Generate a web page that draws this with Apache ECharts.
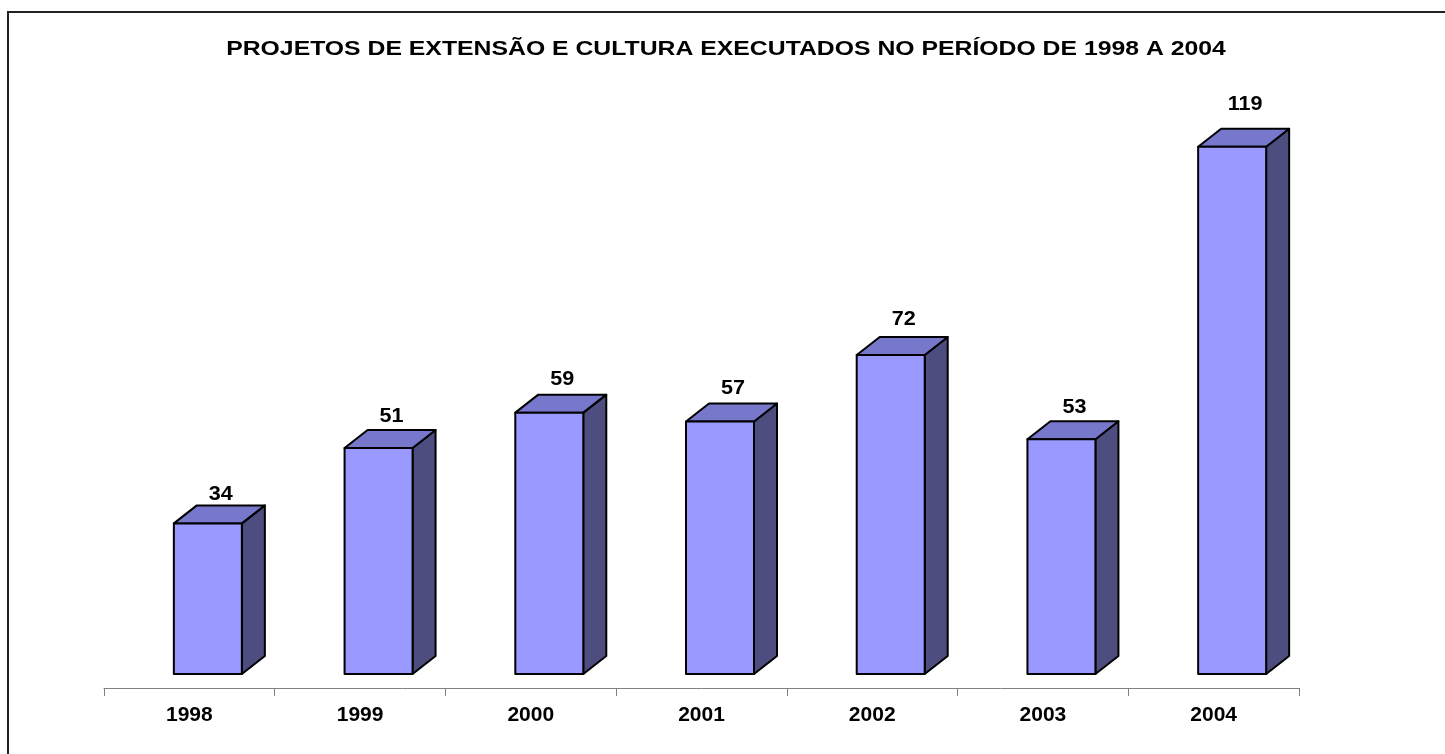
<!DOCTYPE html>
<html>
<head>
<meta charset="utf-8">
<script src="https://cdn.jsdelivr.net/npm/echarts@6/dist/echarts.min.js"></script>
<style>
  html, body { margin: 0; padding: 0; background: #fff; }
  #chart { width: 1445px; height: 754px; }
</style>
</head>
<body>
<div id="chart"></div>
<script>
const titleText = "PROJETOS DE EXTENSÃO E CULTURA EXECUTADOS NO PERÍODO DE 1998 A 2004";
const years = ["1998", "1999", "2000", "2001", "2002", "2003", "2004"];
const projetos = [34, 51, 59, 57, 72, 53, 119];

const FRONT = "#9999ff";
const TOP = "#7777cc";
const SIDE = "#4d4d80";
const DX = 23, DY = 18;      // 3D depth offset
const FACE_W = 68;           // front face width
const FACE_SHIFT = -15.5;    // front face left edge relative to category center
const FONT = "'Liberation Sans', Arial, sans-serif";

const chart = echarts.init(document.querySelector("#chart"));

function renderBar(params, api) {
  const idx = api.value(0);
  const val = api.value(1);
  const base = api.coord([idx, 0]);
  const top = api.coord([idx, val]);
  const x0 = base[0] + FACE_SHIFT;
  const x1 = x0 + FACE_W;
  const y0 = base[1];
  const y1 = top[1];
  const stroke = { stroke: "#000", lineWidth: 2, lineJoin: "round" };
  // label sits a bit higher for taller bars (as in the original)
  const labelY = y0 - (y0 - y1) * 1.035 - 24;
  return {
    type: "group",
    children: [
      {
        type: "polygon",
        shape: { points: [[x1, y0], [x1 + DX, y0 - DY], [x1 + DX, y1 - DY], [x1, y1]] },
        style: Object.assign({ fill: SIDE }, stroke)
      },
      {
        type: "polygon",
        shape: { points: [[x0, y1], [x0 + DX, y1 - DY], [x1 + DX, y1 - DY], [x1, y1]] },
        style: Object.assign({ fill: TOP }, stroke)
      },
      {
        type: "rect",
        shape: { x: x0, y: y1, width: FACE_W, height: y0 - y1 },
        style: Object.assign({ fill: FRONT }, stroke)
      },
      {
        type: "text",
        x: (x0 + x1) / 2 + 13,
        y: labelY,
        scaleX: 1.08,
        style: {
          text: String(val),
          fill: "#000",
          font: "bold 20px " + FONT,
          align: "center",
          verticalAlign: "middle"
        }
      }
    ]
  };
}

chart.setOption({
  animation: false,
  graphic: [
    {
      type: "polyline",
      shape: { points: [[8, 800], [8, 12], [1500, 12]] },
      style: { stroke: "#222", lineWidth: 2, fill: null }
    },
    {
      type: "text",
      x: 726,
      y: 49,
      scaleX: 1.18,
      style: {
        text: titleText,
        fill: "#000",
        font: "bold 21px " + FONT,
        align: "center",
        verticalAlign: "middle"
      }
    }
  ],
  grid: { left: 104, right: 146, top: 142.4, bottom: 80, containLabel: false },
  xAxis: {
    type: "category",
    data: years,
    boundaryGap: true,
    offset: 14,
    axisLine: { onZero: false, lineStyle: { color: "#808080", width: 1 } },
    axisTick: { show: true, length: 8, alignWithLabel: false, lineStyle: { color: "#808080" } },
    axisLabel: {
      margin: 17,
      color: "#000",
      fontFamily: FONT,
      fontWeight: "bold",
      fontSize: 21
    }
  },
  yAxis: {
    type: "value",
    min: 0,
    max: 120,
    show: false,
    splitLine: { show: false }
  },
  series: [
    {
      type: "custom",
      renderItem: renderBar,
      encode: { x: 0, y: 1 },
      data: projetos.map((v, i) => [i, v]),
      clip: false
    }
  ]
});
</script>
</body>
</html>
